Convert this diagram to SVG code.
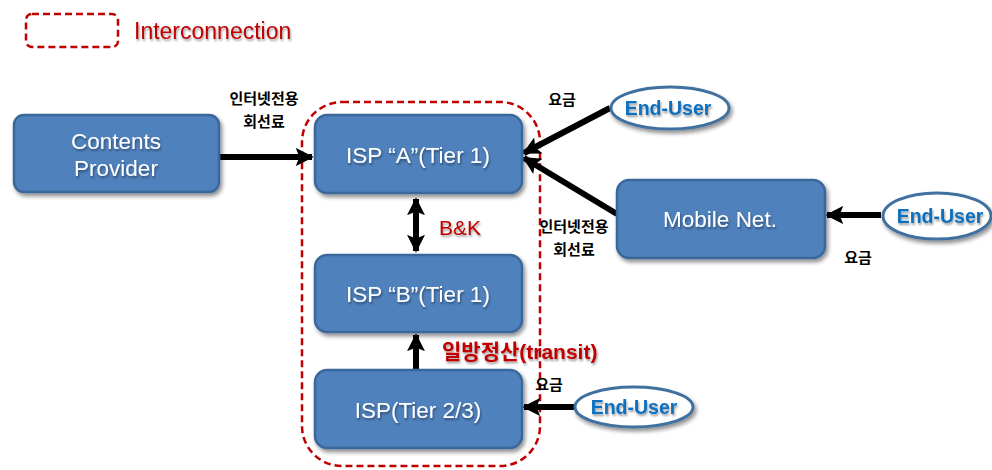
<svg xmlns="http://www.w3.org/2000/svg" width="992" height="470" viewBox="0 0 992 470">
<defs>
<filter id="sh" x="-10%" y="-10%" width="130%" height="140%">
<feGaussianBlur in="SourceAlpha" stdDeviation="2"/>
<feOffset dx="2" dy="3" result="b"/>
<feComponentTransfer><feFuncA type="linear" slope="0.45"/></feComponentTransfer>
<feMerge><feMergeNode/><feMergeNode in="SourceGraphic"/></feMerge>
</filter>
<filter id="tsh" x="-10%" y="-20%" width="130%" height="160%">
<feGaussianBlur in="SourceAlpha" stdDeviation="1"/>
<feOffset dx="1" dy="2" result="b"/>
<feComponentTransfer><feFuncA type="linear" slope="0.4"/></feComponentTransfer>
<feMerge><feMergeNode/><feMergeNode in="SourceGraphic"/></feMerge>
</filter>
<marker id="ah" viewBox="0 0 10 10" refX="9" refY="5" markerWidth="3" markerHeight="3.2" orient="auto-start-reverse" markerUnits="strokeWidth">
<path d="M0,0 L10,5 L0,10 L2,5 Z" fill="#000"/>
</marker>
</defs>
<style>
.box{fill:#4f81bd;stroke:#3a679b;stroke-width:2.5;filter:url(#sh)}
.bt{font-family:"Liberation Sans",Arial,sans-serif;font-size:22.5px;fill:#fff;text-anchor:middle;filter:url(#tsh)}
.eu{fill:#fff;stroke:#41709f;stroke-width:3;filter:url(#sh)}
.et{font-family:"Liberation Sans",Arial,sans-serif;font-size:19.5px;font-weight:bold;fill:#0d6fbf;text-anchor:middle;filter:url(#tsh)}
.lb{font-family:"Noto Sans CJK KR",sans-serif;font-size:15px;font-weight:bold;fill:#000;text-anchor:middle}
.red{font-family:"Liberation Sans","Noto Sans CJK KR",sans-serif;fill:#c00000;filter:url(#tsh)}
.dash{fill:none;stroke:#c00000;stroke-width:2.5;stroke-dasharray:7,4}
.ar{stroke:#000;stroke-width:6;fill:none;marker-end:url(#ah)}
</style>
<g id="legend">
<rect class="dash" x="26" y="14" width="92" height="33" rx="6"/>
<text class="red" x="134" y="39" font-size="23">Interconnection</text>
</g>
<g id="interconnection">
<rect class="dash" x="302" y="102" width="238" height="364" rx="40"/>
</g>
<g id="connectors">
<line class="ar" x1="219" y1="157" x2="312" y2="157"/>
<line class="ar" x1="610" y1="108" x2="524" y2="153"/>
<line class="ar" x1="617" y1="214" x2="524" y2="158"/>
<line class="ar" x1="416" y1="199" x2="416" y2="251" style="marker-start:url(#ah)"/>
<line class="ar" x1="416" y1="370" x2="416" y2="335"/>
<line class="ar" x1="881" y1="215" x2="827" y2="215"/>
<line class="ar" x1="574" y1="407" x2="524" y2="407"/>
</g>
<g id="contents-provider">
<rect class="box" x="14" y="115" width="205" height="77" rx="10"/>
<text class="bt" x="116" y="149">Contents</text>
<text class="bt" x="116" y="176">Provider</text>
</g>
<g id="isp-a">
<rect class="box" x="315" y="115" width="207" height="78" rx="12"/>
<text class="bt" x="418" y="163">ISP “A”(Tier 1)</text>
</g>
<g id="isp-b">
<rect class="box" x="315" y="255" width="207" height="77" rx="12"/>
<text class="bt" x="418" y="302">ISP “B”(Tier 1)</text>
</g>
<g id="isp-tier23">
<rect class="box" x="315" y="370" width="207" height="78" rx="12"/>
<text class="bt" x="418" y="418">ISP(Tier 2/3)</text>
</g>
<g id="mobile-net">
<rect class="box" x="617" y="180" width="208" height="78" rx="12"/>
<text class="bt" x="720" y="227">Mobile Net.</text>
</g>
<g id="end-user-1">
<ellipse class="eu" cx="670" cy="108" rx="59" ry="21"/>
<text class="et" x="668" y="115">End-User</text>
</g>
<g id="end-user-2">
<ellipse class="eu" cx="937" cy="216" rx="54" ry="23"/>
<text class="et" x="940" y="223">End-User</text>
</g>
<g id="end-user-3">
<ellipse class="eu" cx="634" cy="407" rx="59" ry="20"/>
<text class="et" x="634" y="414">End-User</text>
</g>
<g id="labels">
<text class="lb" x="264" y="104">인터넷전용</text>
<text class="lb" x="264" y="127">회선료</text>
<text class="lb" x="562" y="105">요금</text>
<text class="lb" x="574" y="232">인터넷전용</text>
<text class="lb" x="574" y="255">회선료</text>
<text class="lb" x="858" y="263">요금</text>
<text class="lb" x="549" y="390">요금</text>
<text class="red" x="439" y="235" font-size="21">B&amp;K</text>
<text class="red" x="442" y="359" font-size="21" font-weight="bold">일방정산(transit)</text>
</g>
</svg>
